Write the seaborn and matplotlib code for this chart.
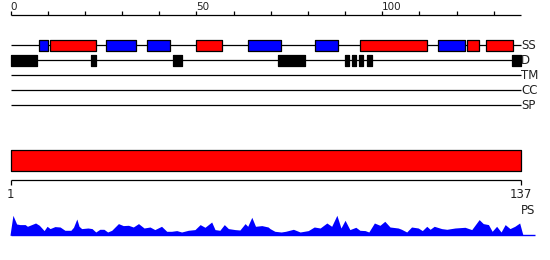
import matplotlib
matplotlib.use("Agg")
import matplotlib.pyplot as plt
import seaborn as sns

# ---------------- data ----------------
seq_len = 137.3
axis_ticks = [0, 10, 20, 30, 40, 50, 60, 70, 80, 90, 100, 110, 120, 130]
axis_labels = [0, 50, 100]
track_names = ["SS", "D", "TM", "CC", "SP"]

helix_start = [10.7, 50.0, 93.9, 122.9, 128.0]
helix_end = [22.9, 57.0, 112.0, 126.1, 135.1]
strand_start = [7.7, 25.7, 36.8, 64.0, 82.0, 115.1]
strand_end = [10.0, 33.8, 43.0, 72.8, 88.0, 122.2]
disorder_start = [0.0, 21.6, 43.7, 71.9, 90.0, 91.9, 93.8, 96.0, 135.0]
disorder_end = [7.0, 22.9, 46.0, 79.2, 91.1, 92.9, 94.9, 97.2, 137.3]

ps_pos = [-0.2, 0.6, 1.6, 2.5, 3.9, 4.5, 6.7, 7.7, 9.0, 9.8, 10.6, 11.9, 13.3, 14.6,
          16.2, 16.9, 17.8, 18.4, 19.1, 20.8, 21.9, 22.9, 24.0, 25.1, 26.1, 27.2,
          29.0, 30.3, 31.7, 33.0, 34.4, 35.9, 37.5, 38.8, 40.6, 42.0, 43.3, 44.7,
          46.0, 47.8, 49.6, 51.0, 52.3, 54.1, 55.0, 56.3, 57.5, 58.6, 60.4, 61.7,
          63.1, 63.8, 64.9, 65.9, 67.6, 69.3, 69.8, 71.1, 72.8, 74.0, 76.1, 77.9,
          80.1, 81.7, 83.3, 85.1, 86.4, 87.8, 88.9, 90.0, 91.3, 92.9, 94.0, 95.4,
          96.4, 97.9, 99.4, 100.7, 102.1, 104.3, 105.2, 106.6, 107.9, 109.7, 110.8,
          112.0, 112.9, 114.0, 116.0, 117.4, 119.6, 122.3, 124.1, 126.1, 127.2,
          128.6, 129.6, 130.8, 132.0, 133.1, 134.4, 135.7, 137.0, 137.9]
ps_val = [0, 20, 11.3, 10.7, 10.7, 9, 12.3, 10, 4.7, 9, 6.7, 8.7, 8.3, 5,
          5, 8, 16.3, 9, 6.7, 7.3, 6.7, 3.3, 6, 6, 3.3, 5,
          11.7, 9.7, 10, 8.3, 11.7, 7.3, 8.3, 5.7, 9, 4, 4, 4.7,
          3.3, 5, 5.7, 10.7, 8, 13.3, 5.7, 5, 10.7, 6.7, 5.7, 5.3,
          11.7, 9, 18, 9, 9.7, 8.3, 6.7, 4, 3.3, 4, 6, 3.3,
          4.7, 8.3, 7.3, 12.3, 9, 20, 7.3, 15, 5.7, 8, 5, 4.7,
          3.3, 12.3, 10, 14, 8.3, 7.3, 6, 3.3, 8.3, 7.3, 4.7,
          9, 6, 9, 6.7, 6, 7.3, 8, 5.7, 15.7, 11.7,
          10.7, 4, 9, 3.3, 10.7, 6.7, 9, 12.3, 0]
ps_baseline_end = 141.2

# ---------------- figure ----------------
sns.set_theme(style="white")
plt.rcParams['font.family'] = ['DejaVu Sans']

fig = plt.figure(figsize=(5.5, 2.6), dpi=100)
ax = fig.add_axes([0, 0, 1, 1])
PX0, SC = 10.7, 3.715
ax.set_xlim(-PX0 / SC, (550 - PX0) / SC)
ax.set_ylim(260, 0)
ax.axis('off')

LW = 0.9
# top ruler
ax.hlines(15, 0, seq_len, color='black', lw=LW)
ax.vlines(axis_ticks, 11, 15, color='black', lw=LW)
for t in axis_labels:
    ax.text(t, 10.3, str(t), ha='left', va='baseline', fontsize=7.5, color='#222222')

# tracks
track_y = [45.3, 60.3, 75.3, 90.3, 105.3]
for name, y in zip(track_names, track_y):
    ax.hlines(y, 0, seq_len, color='black', lw=LW, zorder=1)
    ax.text(seq_len + 0.1, y, name, ha='left', va='center', fontsize=8.5, color='#222222')

ax.broken_barh([(s, e - s) for s, e in zip(strand_start, strand_end)], (40.3, 10.2),
               facecolors='#0000ff', edgecolors='black', lw=LW, zorder=2)
ax.broken_barh([(s, e - s) for s, e in zip(helix_start, helix_end)], (40.3, 10.2),
               facecolors='#ff0000', edgecolors='black', lw=LW, zorder=2)
ax.broken_barh([(s, e - s) for s, e in zip(disorder_start, disorder_end)], (55.3, 10.2),
               facecolors='black', edgecolors='black', lw=LW, zorder=2)

# red bar
ax.broken_barh([(0, seq_len)], (150.3, 20.2), facecolors='#ff0000',
               edgecolors='black', lw=LW, zorder=2)

# bottom ruler
ax.hlines(180.3, 0, seq_len, color='black', lw=LW)
ax.vlines([0, seq_len], 180.3, 185, color='black', lw=LW)
ax.text(0, 187.5, "1", ha='center', va='top', fontsize=8.5, color='#222222')
ax.text(seq_len, 187.5, "137", ha='center', va='top', fontsize=8.5, color='#222222')
ax.text(seq_len, 211, "PS", ha='left', va='center', fontsize=8.5, color='#222222')

# PS profile
base = 235.3
ax.fill_between(ps_pos, base, [base - v for v in ps_val], color='#0000ff', lw=0)
ax.hlines(base, 0, ps_baseline_end, color='#0000ff', lw=1.0)

fig.savefig("out.png", dpi=100)
